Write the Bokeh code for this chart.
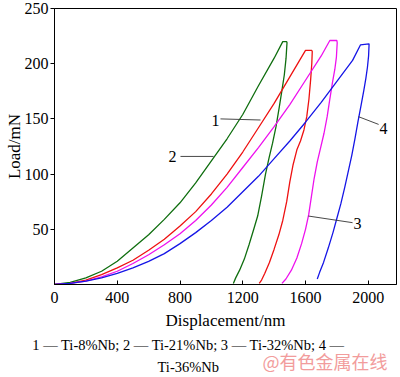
from bokeh.plotting import figure
from bokeh.models import Range1d, FixedTicker, Label
from bokeh.layouts import column
from bokeh.core.properties import value
from bokeh.embed import file_html
from bokeh.resources import INLINE

# ---- data (displacement nm, load mN) ----
load_disp_1 = [0, 100, 200, 300, 400, 500, 600, 700, 800, 900, 1000, 1100, 1200, 1300, 1400, 1455, 1480]
load_val_1 = [0, 2, 6, 12, 21, 33, 45, 59, 74, 92, 112, 132, 154, 180, 205, 220, 220]
unload_disp_1 = [1482, 1476, 1465, 1450, 1432, 1412, 1390, 1368, 1345, 1320, 1295, 1270, 1240, 1210, 1180, 1155, 1140]
unload_val_1 = [219, 205, 190, 176, 160, 143, 128, 115, 100, 80, 62, 50, 36, 23, 13, 6, 1]

load_disp_2 = [0, 100, 200, 300, 400, 500, 600, 700, 800, 900, 1000, 1100, 1200, 1300, 1400, 1500, 1600, 1640]
load_val_2 = [0, 1, 4, 9, 15, 22, 31, 41, 53, 66, 82, 100, 120, 142, 164, 188, 212, 212]
unload_disp_2 = [1643, 1640, 1633, 1622, 1608, 1590, 1568, 1545, 1520, 1500, 1480, 1455, 1430, 1400, 1370, 1340, 1320, 1305]
unload_val_2 = [211, 200, 186, 168, 152, 140, 130, 122, 108, 93, 75, 58, 45, 32, 20, 10, 4, 1]

load_disp_3 = [0, 100, 200, 300, 400, 500, 600, 700, 800, 900, 1000, 1100, 1200, 1300, 1400, 1500, 1600, 1700, 1755, 1800]
load_val_3 = [0, 1, 3, 7, 12, 19, 27, 36, 46, 58, 72, 88, 106, 124, 143, 163, 185, 207, 221, 221]
unload_disp_3 = [1802, 1797, 1787, 1772, 1755, 1738, 1718, 1695, 1675, 1655, 1638, 1620, 1600, 1575, 1545, 1510, 1475, 1450]
unload_val_3 = [219, 206, 195, 183, 168, 152, 137, 123, 111, 96, 80, 63, 50, 37, 24, 13, 5, 1]

load_disp_4 = [0, 100, 200, 300, 400, 500, 600, 700, 800, 900, 1000, 1100, 1200, 1300, 1400, 1500, 1600, 1700, 1800, 1900, 1950, 2005]
load_val_4 = [0, 1, 3, 6, 10, 15, 21, 28, 37, 47, 58, 70, 84, 98, 114, 130, 147, 165, 184, 203, 217, 218]
unload_disp_4 = [2005, 2002, 1995, 1985, 1972, 1955, 1935, 1915, 1895, 1875, 1850, 1825, 1800, 1775, 1745, 1715, 1690, 1675]
unload_val_4 = [217, 207, 197, 187, 176, 163, 148, 132, 117, 104, 88, 73, 60, 47, 33, 20, 11, 5]

series_colors = ["#0f6e0f", "#ee1111", "#ee11ee", "#1515e6"]

x_ticks = [0, 400, 800, 1200, 1600, 2000]
y_ticks = [50, 100, 150, 200, 250]

# curve number labels and their leader lines (data coordinates)
label_text = ["1", "2", "3", "4"]
label_x = [1026, 752, 1931, 2097]
label_y = [149, 116, 55, 141]
leader_x0 = [1058, 803, 1619, 1938]
leader_y0 = [150, 116, 62, 152]
leader_x1 = [1313, 1014, 1900, 2066]
leader_y1 = [149, 116, 56, 145]

caption_1 = "1 — Ti-8%Nb;  2 — Ti-21%Nb;  3 — Ti-32%Nb;  4 —"
caption_2 = "Ti-36%Nb"
watermark = "@有色金属在线"

FONT = "Liberation Serif"

p = figure(width=400, height=335, output_backend="svg", toolbar_location=None,
           x_range=Range1d(0, 2180), y_range=Range1d(0, 250),
           min_border_left=54, min_border_right=4, min_border_top=8, min_border_bottom=51)
p.background_fill_color = "white"
p.border_fill_color = "white"
p.outline_line_color = "black"
p.outline_line_width = 1
p.xgrid.visible = False
p.ygrid.visible = False

p.xaxis.ticker = FixedTicker(ticks=x_ticks)
p.yaxis.ticker = FixedTicker(ticks=y_ticks)
p.xaxis.minor_tick_line_color = None
p.yaxis.minor_tick_line_color = None
p.xaxis.major_tick_in = 4
p.xaxis.major_tick_out = 0
p.yaxis.major_tick_in = 0
p.yaxis.major_tick_out = 4
p.xaxis.major_label_standoff = 7
p.yaxis.major_label_standoff = 2
for ax in (p.xaxis, p.yaxis):
    ax.axis_line_color = "black"
    ax.major_tick_line_color = "black"
    ax.major_label_text_font = FONT
    ax.major_label_text_font_size = "16px"
    ax.major_label_text_color = "black"
    ax.axis_label_text_font = FONT
    ax.axis_label_text_font_size = "17px"
    ax.axis_label_text_font_style = "normal"
    ax.axis_label_text_color = "black"
p.xaxis.axis_label = "Displacement/nm"
p.yaxis.axis_label = "Load/mN"
p.xaxis.axis_label_standoff = 5
p.yaxis.axis_label_standoff = -2

curves = [
    (load_disp_1, load_val_1, unload_disp_1, unload_val_1),
    (load_disp_2, load_val_2, unload_disp_2, unload_val_2),
    (load_disp_3, load_val_3, unload_disp_3, unload_val_3),
    (load_disp_4, load_val_4, unload_disp_4, unload_val_4),
]
for (lx, ly, ux, uy), c in zip(curves, series_colors):
    p.line(lx + ux, ly + uy, line_color=c, line_width=1.3)

p.segment(x0=leader_x0, y0=leader_y0, x1=leader_x1, y1=leader_y1,
          line_color="#333333", line_width=0.9)
for t, x, y in zip(label_text, label_x, label_y):
    p.add_layout(Label(x=x, y=y, text=t, text_font=FONT, text_font_size="16px",
                       text_align="center", text_baseline="middle", text_color="black"))

# caption strip below the chart (page-pixel coordinates, y downward)
cap = figure(width=400, height=42, output_backend="svg", toolbar_location=None,
             x_range=Range1d(0, 400), y_range=Range1d(42, 0),
             x_axis_type=None, y_axis_type=None, frame_align=False,
             min_border_left=0, min_border_right=0, min_border_top=0, min_border_bottom=0)
cap.outline_line_color = None
cap.background_fill_color = "white"
cap.border_fill_color = "white"
cap.text(x=[193.5], y=[9], text=[caption_1], text_font=value(FONT), text_font_size="14.5px",
         text_align="center", text_baseline="middle", text_color="black")
cap.text(x=[157], y=[31], text=[caption_2], text_font=value(FONT), text_font_size="14.5px",
         text_align="left", text_baseline="middle", text_color="black")
cap.text(x=[262], y=[25], text=[watermark], text_font=value("Noto Sans CJK SC"),
         text_font_size="18px", text_align="left", text_baseline="middle", text_color="#f29c9c")

layout = column(p, cap, spacing=0)
open("out.html", "w").write(file_html(layout, INLINE))
